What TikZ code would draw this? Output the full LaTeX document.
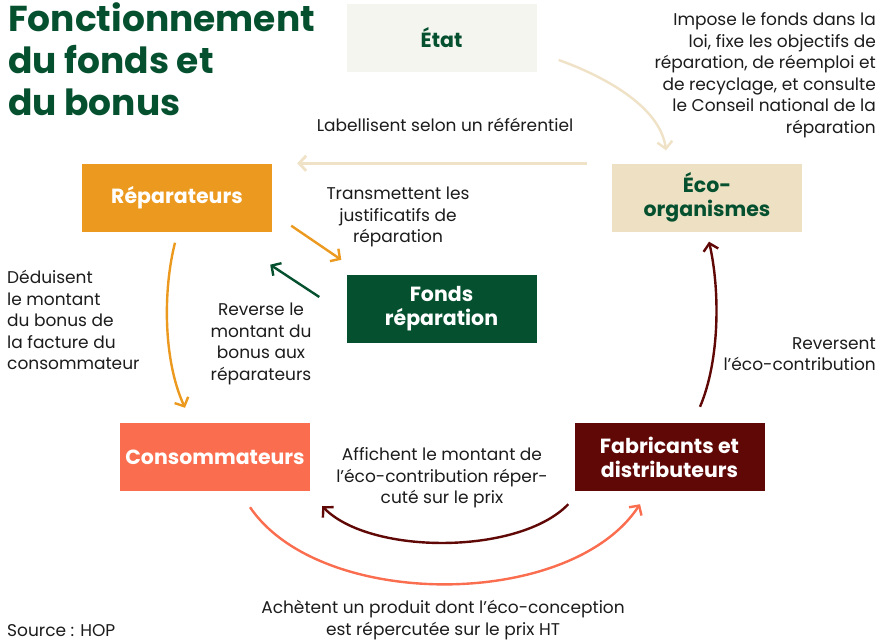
\documentclass[tikz,border=0pt]{standalone}
\usepackage{fontspec}
\setmainfont{Poppins}
\usetikzlibrary{arrows.meta,calc}
\definecolor{dgreen}{HTML}{05502F}
\definecolor{etatbg}{HTML}{F4F5EF}
\definecolor{beige}{HTML}{EDE0C3}
\definecolor{beigearr}{HTML}{EFE2C6}
\definecolor{orng}{HTML}{EC9A1F}
\definecolor{coral}{HTML}{FA6D4E}
\definecolor{maroon}{HTML}{600806}
\definecolor{ink}{HTML}{1C1C1C}
\begin{document}
\begin{tikzpicture}[x=1pt,y=-1pt,
  box/.style={rectangle, minimum width=190pt, minimum height=68pt, inner sep=0pt, align=center,
    font=\fontsize{20.5}{24}\selectfont\bfseries},
  lbl/.style={text=ink, font=\fontsize{17}{21.5}\selectfont, inner sep=0pt},
  arr/.style={line width=2.4pt, -{Straight Barb[length=7pt,width=15pt]}}]
\useasboundingbox (0,0) rectangle (880,643);
\fill[white] (0,0) rectangle (880,643);

% title
\node[anchor=north west, inner sep=0pt, align=left, text=dgreen,
  font=\fontsize{36}{42}\selectfont\bfseries] (title) at (8,2)
  {Fonctionnement\\du fonds et\\du bonus};

% boxes
\node[box, fill=etatbg, text=dgreen] (etat) at (441.5,38) {État};
\node[box, fill=beige, text=dgreen] (eco) at (707,197.5) {Éco-\\organismes};
\node[box, fill=orng, text=white] (rep) at (177,197.5) {Réparateurs};
\node[box, fill=dgreen, text=white] (fonds) at (441.5,309) {Fonds\\réparation};
\node[box, fill=coral, text=white] (cons) at (215,457) {Consommateurs};
\node[box, fill=maroon, text=white] (fab) at (669.5,457) {Fabricants et\\distributeurs};

% labels
\node[lbl, anchor=east, align=right] (limpose) at (876,75)
  {Impose le fonds dans la\\loi, fixe les objectifs de\\réparation, de réemploi et\\de recyclage, et consulte\\le Conseil national de la\\réparation};
\node[lbl] (llab) at (445,125) {Labellisent selon un référentiel};
\node[lbl, align=center] (ltrans) at (398,217) {Transmettent les\\justificatifs de\\réparation};
\node[lbl, align=center] (lrev) at (261,344) {Reverse le\\montant du\\bonus aux\\réparateurs};
\node[lbl, anchor=west, align=left] (lded) at (7,320)
  {Déduisent\\le montant\\du bonus de\\la facture du\\consommateur};
\node[lbl, anchor=east, align=right] (lrevs) at (876,354) {Reversent\\l’éco-contribution};
\node[lbl, align=center] (laff) at (442,478) {Affichent le montant de\\l’éco-contribution réper-\\cuté sur le prix};
\node[lbl, align=center] (lach) at (443,620) {Achètent un produit dont l’éco-conception\\est répercutée sur le prix HT};
\node[lbl, anchor=base west] (src) at (7,636) {Source : HOP};

% connector end points
\coordinate (e1) at ($(etat.east)+(22,22)$);
\coordinate (e2) at ($(eco.north)+(-41,-13)$);
\coordinate (h1) at ($(eco.north west)+(-25,0)$);
\coordinate (h2) at ($(rep.north east)+(25,0)$);
\coordinate (r1) at ($(rep.south east)+(19,-6)$);
\coordinate (r2) at ($(fonds.north west)+(-5,-15)$);
\coordinate (f1) at ($(fonds.west)+(-27,-12)$);
\coordinate (f2) at ($(rep.south east)+(-2,33)$);
\coordinate (d1) at ($(rep.south)+(-2,11)$);
\coordinate (d2) at ($(cons.north)+(-30,-15)$);
\coordinate (u1) at ($(fab.north)+(30.5,-16)$);
\coordinate (u2) at ($(eco.south)+(2,10)$);
\coordinate (m1) at ($(fab.south west)+(-6,13)$);
\coordinate (m2) at ($(cons.south east)+(12,15)$);
\coordinate (k1) at ($(cons.south)+(35,16)$);
\coordinate (k2) at ($(fab.south)+(-29.5,13)$);

% connectors
\draw[arr, beigearr] (e1) .. controls ($(e1)+(42,15)$) and ($(e2)+(-6,-45)$) .. (e2);
\draw[arr, beigearr, line width=2.8pt] (h1) -- (h2);
\draw[arr, orng] (r1) -- (r2);
\draw[arr, dgreen] (f1) -- (f2);
\draw[arr, orng] (d1) .. controls ($(d1)+(-12,47)$) and ($(d2)+(-22,-48)$) .. (d2);
\draw[arr, maroon] (u1) .. controls ($(u1)+(20,-47)$) and ($(u2)+(11,48)$) .. (u2);
\draw[arr, maroon] (m1) .. controls ($(m1)+(-49,51)$) and ($(m2)+(48,49)$) .. (m2);
\draw[arr, coral] (k1) .. controls ($(k1)+(70,103)$) and ($(k2)+(-70,106)$) .. (k2);
\end{tikzpicture}
\end{document}
